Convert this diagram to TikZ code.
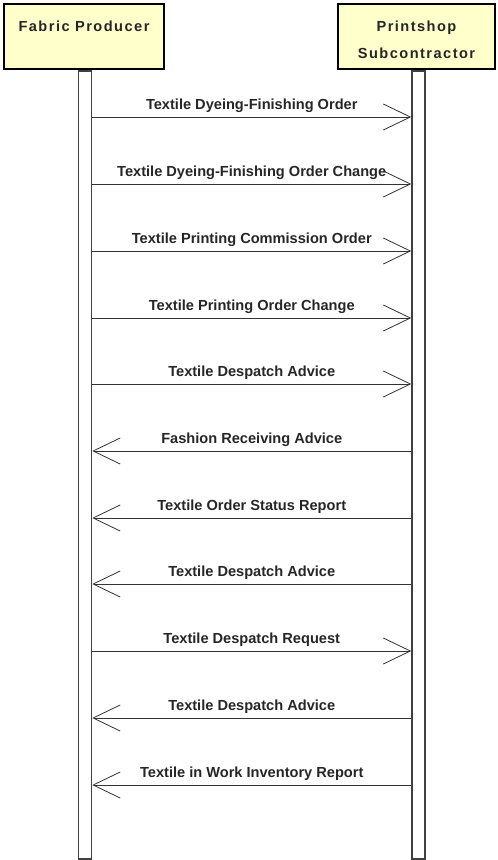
\documentclass[tikz,border=0pt]{standalone}
\usepackage{fontspec}
\setmainfont{Liberation Sans}
\usepackage{xcolor}
\usetikzlibrary{arrows.meta,positioning}

\definecolor{boxyellow}{RGB}{255,255,204}

\begin{document}
\begin{tikzpicture}[x=1pt, y=-1pt,
    actor/.style={draw, line width=2.5pt, fill=boxyellow, minimum height=65pt, inner sep=0pt},
    title/.style={anchor=north, align=center, inner sep=3.3pt, yshift=-15pt, text=black!85, font=\fontsize{14.6}{27}\selectfont\bfseries\addfontfeature{LetterSpace=10}},
    lifeline/.style={draw=black!75, line width=1.5pt, fill=white, minimum width=13pt, minimum height=788pt, anchor=north, inner sep=0pt},
    msg/.style={draw=black!80, line width=1pt, -{Straight Barb[length=27pt, width=26pt, line width=0.8pt]}},
    msglabel/.style={above=1pt, text=black!85, font=\fontsize{14.6}{17}\selectfont\bfseries}]
    \useasboundingbox (0,0) rectangle (498,860);

    % participants
    \node[actor, minimum width=160pt] (fp) at (84,36.5) {};
    \node[actor, minimum width=157pt] (ps) at (416.5,36.5) {};
    \node[title] (fptitle) at (fp.north) {Fabric Producer};
    \node[title] (pstitle) at (ps.north) {Printshop\\Subcontractor};

    % lifelines
    \node[lifeline] (fpline) at (85,70) {};
    \node[lifeline] (psline) at (418.5,70) {};

    % messages
    \foreach \y/\from/\to/\txt in {
        117/fpline.east/psline.west/Textile Dyeing-Finishing Order,
        184/fpline.east/psline.west/Textile Dyeing-Finishing Order Change,
        251/fpline.east/psline.west/Textile Printing Commission Order,
        318/fpline.east/psline.west/Textile Printing Order Change,
        384/fpline.east/psline.west/Textile Despatch Advice,
        451/psline.west/fpline.east/Fashion Receiving Advice,
        518/psline.west/fpline.east/Textile Order Status Report,
        584/psline.west/fpline.east/Textile Despatch Advice,
        651/fpline.east/psline.west/Textile Despatch Request,
        718/psline.west/fpline.east/Textile Despatch Advice,
        785/psline.west/fpline.east/Textile in Work Inventory Report}{
        \coordinate (m) at (0,\y);
        \draw[msg] (\from |- m) -- node[msglabel] {\txt} (\to |- m);
    }
\end{tikzpicture}
\end{document}
